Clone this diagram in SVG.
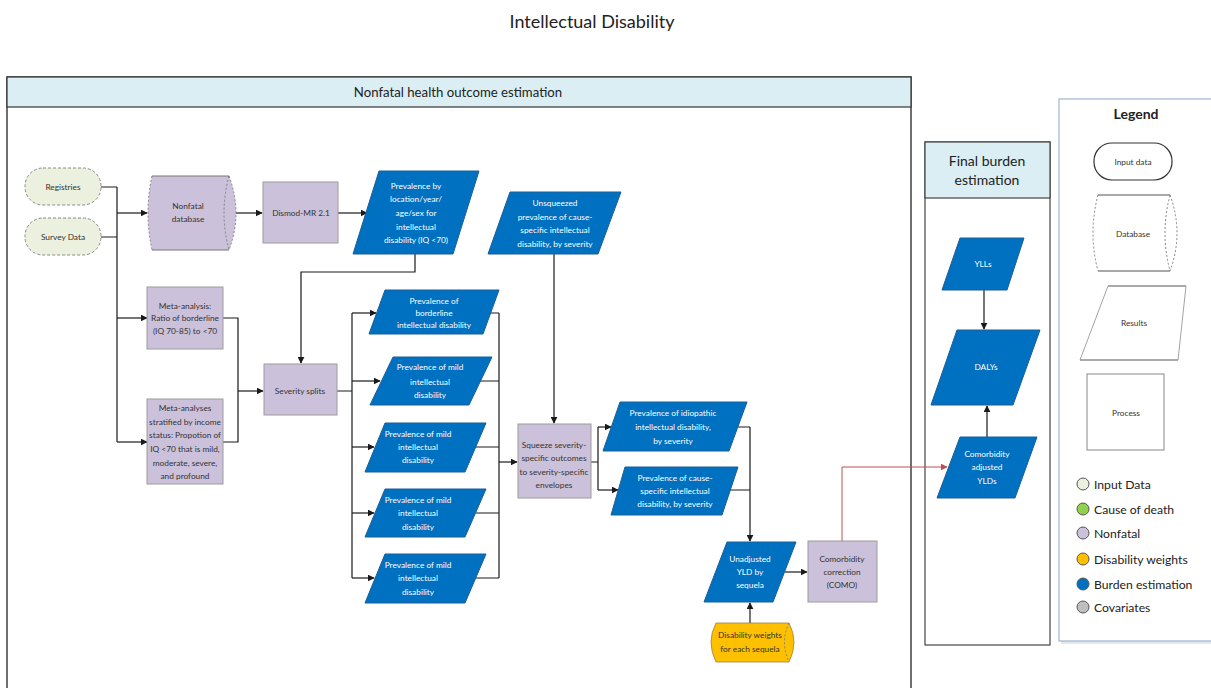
<svg xmlns="http://www.w3.org/2000/svg" width="1211" height="688" viewBox="0 0 1211 688">
  <style>
    .t{font-family:Lato,"Liberation Sans",sans-serif;font-size:8.3px;fill:#333;text-anchor:middle}
    .tw{fill:#fff}
    .lav{fill:#CCC1DA;stroke:#9C9C9C;stroke-width:1}
    .blue{fill:#0070C0;stroke:#1B5E97;stroke-width:1}
    .inp{fill:#EBF1DE;stroke:#8A8A8A;stroke-width:1;stroke-dasharray:3 2}
    .frame{fill:#fff;stroke:#333;stroke-width:1.4}
    .band{fill:#DAEEF3;stroke:#333;stroke-width:1.2}
    .conn path{fill:none;stroke:#1A1A1A;stroke-width:1.2}
    .conn path.red{stroke:#C0504D;stroke-width:1}
    .lg{font-family:Lato,"Liberation Sans",sans-serif;font-size:12.2px;fill:#222}
    .dash{fill:none;stroke:#777;stroke-width:0.9;stroke-dasharray:2 2}
  </style>
  <defs>
    <marker id="ah" viewBox="0 0 10 10" refX="9" refY="5" markerWidth="7" markerHeight="7" markerUnits="userSpaceOnUse" orient="auto">
      <path d="M0,0 L10,5 L0,10 Z" fill="#1A1A1A"/>
    </marker>
    <marker id="ahr" viewBox="0 0 10 10" refX="9" refY="5" markerWidth="7" markerHeight="7" markerUnits="userSpaceOnUse" orient="auto">
      <path d="M0,0 L10,5 L0,10 Z" fill="#C0504D"/>
    </marker>
  </defs>

  <rect width="1211" height="688" fill="#fff"/>

  <text x="592" y="28" style="font-family:Lato,'Liberation Sans',sans-serif;font-size:18px;fill:#222;text-anchor:middle">Intellectual Disability</text>

  <!-- Nonfatal swimlane -->
  <g id="lane-nonfatal">
    <rect class="frame" x="7" y="77" width="904" height="640"/>
    <rect class="band" x="7" y="77" width="904" height="30"/>
    <text x="458" y="97" style="font-family:Lato,'Liberation Sans',sans-serif;font-size:13.2px;fill:#222;text-anchor:middle">Nonfatal health outcome estimation</text>
  </g>

  <!-- Final burden swimlane -->
  <g id="lane-burden">
    <rect class="frame" x="925" y="142" width="125" height="503" style="stroke:#444;stroke-width:1.2"/>
    <rect class="band" x="925" y="142" width="125" height="56" style="stroke:#444"/>
    <text x="987" y="166" style="font-family:Lato,'Liberation Sans',sans-serif;font-size:14px;fill:#222;text-anchor:middle">Final burden</text>
    <text x="987" y="185" style="font-family:Lato,'Liberation Sans',sans-serif;font-size:14px;fill:#222;text-anchor:middle">estimation</text>
  </g>

  <!-- Legend -->
  <g id="legend">
    <rect x="1061" y="102" width="160" height="542" fill="#E3E8EE"/>
    <rect x="1059" y="99" width="160" height="542" fill="#fff" stroke="#9DB5D3" stroke-width="1.2"/>
    <text x="1136" y="119" style="font-family:Lato,'Liberation Sans',sans-serif;font-size:14px;font-weight:bold;fill:#222;text-anchor:middle">Legend</text>
    <rect x="1094" y="143" width="78" height="37" rx="18" fill="#fff" stroke="#333" stroke-width="1.2"/>
    <text class="t" x="1133" y="165">Input data</text>
    <path d="M1098,195 H1170 M1098,271 H1170" stroke="#555" stroke-width="1" fill="none"/>
    <path class="dash" d="M1098,195 Q1088,233 1098,271 M1170,195 Q1184,233 1170,271 Q1160,233 1170,195"/>
    <text class="t" x="1133" y="237">Database</text>
    <path d="M1108,286 H1186 M1080,360 H1178" stroke="#555" stroke-width="1" fill="none"/>
    <path d="M1108,286 L1080,360 M1186,286 L1178,360" fill="none" stroke="#999" stroke-width="0.9"/>
    <text class="t" x="1134" y="326">Results</text>
    <rect x="1087" y="374" width="77" height="76" fill="#fff" stroke="#888" stroke-width="1"/>
    <text class="t" x="1126" y="416">Process</text>
    <circle cx="1083" cy="484" r="6" fill="#EBF1DE" stroke="#555"/>
    <text class="lg" x="1094" y="488.5">Input Data</text>
    <circle cx="1083" cy="509" r="6" fill="#92D050" stroke="#555"/>
    <text class="lg" x="1094" y="513.5">Cause of death</text>
    <circle cx="1083" cy="533" r="6" fill="#CCC1DA" stroke="#555"/>
    <text class="lg" x="1094" y="537.5">Nonfatal</text>
    <circle cx="1083" cy="559" r="6" fill="#FFC000" stroke="#555"/>
    <text class="lg" x="1094" y="563.5">Disability weights</text>
    <circle cx="1083" cy="584" r="6" fill="#0070C0" stroke="#555"/>
    <text class="lg" x="1094" y="588.5">Burden estimation</text>
    <circle cx="1083" cy="607" r="6" fill="#BFBFBF" stroke="#555"/>
    <text class="lg" x="1094" y="611.5">Covariates</text>
  </g>

  <!-- Connectors -->
  <g id="connectors" class="conn">
    <path d="M101,187 H117 M101,237 H117 M117,187 V442"/>
    <path d="M117,213 H147" marker-end="url(#ah)"/>
    <path d="M117,318 H147" marker-end="url(#ah)"/>
    <path d="M117,442 H147" marker-end="url(#ah)"/>
    <path d="M236,213 H262" marker-end="url(#ah)"/>
    <path d="M338,213 H367" marker-end="url(#ah)"/>
    <path d="M415,254 V272 H301 V363" marker-end="url(#ah)"/>
    <path d="M223,318 H238 V442 H223"/>
    <path d="M238,391 H263" marker-end="url(#ah)"/>
    <path d="M337,391 H352 M352,313 V578"/>
    <path d="M352,313 H376" marker-end="url(#ah)"/>
    <path d="M352,381 H380" marker-end="url(#ah)"/>
    <path d="M352,447 H374" marker-end="url(#ah)"/>
    <path d="M352,513 H374" marker-end="url(#ah)"/>
    <path d="M352,578 H374" marker-end="url(#ah)"/>
    <path d="M490,313 H499 M480,381 H499 M476,447 H499 M476,513 H499 M476,578 H499 M499,313 V578"/>
    <path d="M499,462 H517" marker-end="url(#ah)"/>
    <path d="M554,254 V423" marker-end="url(#ah)"/>
    <path d="M591,462 H598 M598,427 V490"/>
    <path d="M598,427 H611" marker-end="url(#ah)"/>
    <path d="M598,490 H618" marker-end="url(#ah)"/>
    <path d="M738,427 H750 M730,490 H750 M750,427 V541" marker-end="url(#ah)"/>
    <path d="M785,572 H807" marker-end="url(#ah)"/>
    <path d="M750,623 V603" marker-end="url(#ah)"/>
    <path class="red" d="M842,541 V467 H947" marker-end="url(#ahr)"/>
    <path d="M984,290 V329" marker-end="url(#ah)"/>
    <path d="M987,437 V406" marker-end="url(#ah)"/>
  </g>

  <!-- Input data -->
  <g id="registries">
    <rect class="inp" x="25" y="168" width="76" height="37" rx="18"/>
    <text class="t" x="63" y="190">Registries</text>
  </g>
  <g id="survey-data">
    <rect class="inp" x="25" y="218" width="76" height="37" rx="18"/>
    <text class="t" x="63" y="240">Survey Data</text>
  </g>

  <!-- Nonfatal database -->
  <g id="nonfatal-database">
    <path d="M152,176 H229 Q243,213 229,250 H152 Q144,213 152,176 Z" fill="#CCC1DA"/>
    <path d="M152,176 H229 M152,250 H229" stroke="#777" stroke-width="1" fill="none"/>
    <path class="dash" d="M152,176 Q144,213 152,250 M229,176 Q243,213 229,250 M229,176 Q219,213 229,250"/>
    <text class="t" x="188" y="209">Nonfatal</text>
    <text class="t" x="188" y="222">database</text>
  </g>

  <g id="dismod">
    <rect class="lav" x="263" y="182" width="75" height="61"/>
    <text class="t" x="301" y="216">Dismod-MR 2.1</text>
  </g>

  <g id="prevalence-location">
    <polygon class="blue" points="379,171 479,171 453,254 353,254"/>
    <text class="t tw" x="416" y="189">Prevalence by</text>
    <text class="t tw" x="416" y="202">location/year/</text>
    <text class="t tw" x="416" y="216">age/sex for</text>
    <text class="t tw" x="416" y="230">intellectual</text>
    <text class="t tw" x="416" y="243">disability (IQ &lt;70)</text>
  </g>

  <g id="unsqueezed">
    <polygon class="blue" points="510,192 621,192 598,254 488,254"/>
    <text class="t tw" x="555" y="206">Unsqueezed</text>
    <text class="t tw" x="555" y="220">prevalence of cause-</text>
    <text class="t tw" x="555" y="233">specific intellectual</text>
    <text class="t tw" x="555" y="247">disability, by severity</text>
  </g>

  <g id="meta-borderline">
    <rect class="lav" x="147" y="287" width="76" height="62"/>
    <text class="t" x="185" y="309">Meta-analysis:</text>
    <text class="t" x="185" y="321">Ratio of borderline</text>
    <text class="t" x="185" y="334">(IQ 70-85) to &lt;70</text>
  </g>

  <g id="meta-income">
    <rect class="lav" x="147" y="399" width="76" height="85"/>
    <text class="t" x="185" y="411">Meta-analyses</text>
    <text class="t" x="185" y="425">stratified by income</text>
    <text class="t" x="185" y="438">status: Propotion of</text>
    <text class="t" x="185" y="452">IQ &lt;70 that is mild,</text>
    <text class="t" x="185" y="466">moderate, severe,</text>
    <text class="t" x="185" y="479">and profound</text>
  </g>

  <g id="severity-splits">
    <rect class="lav" x="264" y="364" width="73" height="51"/>
    <text class="t" x="300" y="394">Severity splits</text>
  </g>

  <g id="prev-borderline">
    <polygon class="blue" points="385,290 499,290 483,334 369,334"/>
    <text class="t tw" x="434" y="304">Prevalence of</text>
    <text class="t tw" x="434" y="316">borderline</text>
    <text class="t tw" x="434" y="328">intellectual disability</text>
  </g>
  <g id="prev-mild-1">
    <polygon class="blue" points="393,357 492,357 469,405 370,405"/>
    <text class="t tw" x="430" y="370">Prevalence of mild</text>
    <text class="t tw" x="430" y="385">intellectual</text>
    <text class="t tw" x="430" y="398">disability</text>
  </g>
  <g id="prev-mild-2">
    <polygon class="blue" points="385,423 486,423 465,472 365,472"/>
    <text class="t tw" x="418" y="437">Prevalence of mild</text>
    <text class="t tw" x="418" y="450">intellectual</text>
    <text class="t tw" x="418" y="463">disability</text>
  </g>
  <g id="prev-mild-3">
    <polygon class="blue" points="385,489 486,489 465,537 365,537"/>
    <text class="t tw" x="418" y="503">Prevalence of mild</text>
    <text class="t tw" x="418" y="516">intellectual</text>
    <text class="t tw" x="418" y="530">disability</text>
  </g>
  <g id="prev-mild-4">
    <polygon class="blue" points="385,554 486,554 465,603 365,603"/>
    <text class="t tw" x="418" y="568">Prevalence of mild</text>
    <text class="t tw" x="418" y="581">intellectual</text>
    <text class="t tw" x="418" y="595">disability</text>
  </g>

  <g id="squeeze">
    <rect class="lav" x="518" y="424" width="73" height="74"/>
    <text class="t" x="554" y="448">Squeeze severity-</text>
    <text class="t" x="554" y="461">specific outcomes</text>
    <text class="t" x="554" y="475">to severity-specific</text>
    <text class="t" x="554" y="488">envelopes</text>
  </g>

  <g id="prev-idiopathic">
    <polygon class="blue" points="620,402 747,402 729,451 603,451"/>
    <text class="t tw" x="673" y="416">Prevalence of idiopathic</text>
    <text class="t tw" x="673" y="430">intellectual disability,</text>
    <text class="t tw" x="673" y="444">by severity</text>
  </g>
  <g id="prev-cause">
    <polygon class="blue" points="625,467 738,467 722,515 611,515"/>
    <text class="t tw" x="675" y="481">Prevalence of cause-</text>
    <text class="t tw" x="675" y="494">specific intellectual</text>
    <text class="t tw" x="675" y="507">disability, by severity</text>
  </g>

  <g id="unadjusted-yld">
    <polygon class="blue" points="727,542 796,542 773,602 704,602"/>
    <text class="t tw" x="750" y="562">Unadjusted</text>
    <text class="t tw" x="750" y="575">YLD by</text>
    <text class="t tw" x="750" y="588">sequela</text>
  </g>

  <g id="como">
    <rect class="lav" x="808" y="541" width="69" height="61"/>
    <text class="t" x="842" y="562">Comorbidity</text>
    <text class="t" x="842" y="575">correction</text>
    <text class="t" x="842" y="588">(COMO)</text>
  </g>

  <g id="disability-weights">
    <path d="M716,623 H789 Q799,642 789,662 H716 Q706,642 716,623 Z" fill="#FFC000" stroke="#A08040" stroke-width="0.8"/>
    <path class="dash" d="M789,623 Q780,642 789,662"/>
    <text class="t" x="750" y="638">Disability weights</text>
    <text class="t" x="750" y="652">for each sequela</text>
  </g>

  <g id="ylls">
    <polygon class="blue" points="960,238 1024,238 1007,290 942,290"/>
    <text class="t tw" x="983" y="267">YLLs</text>
  </g>
  <g id="dalys">
    <polygon class="blue" points="957,330 1040,330 1013,405 931,405"/>
    <text class="t tw" x="986" y="370">DALYs</text>
  </g>
  <g id="comorbidity-adjusted">
    <polygon class="blue" points="960,437 1037,437 1015,498 937,498"/>
    <text class="t tw" x="987" y="457">Comorbidity</text>
    <text class="t tw" x="987" y="470">adjusted</text>
    <text class="t tw" x="987" y="484">YLDs</text>
  </g>
</svg>
